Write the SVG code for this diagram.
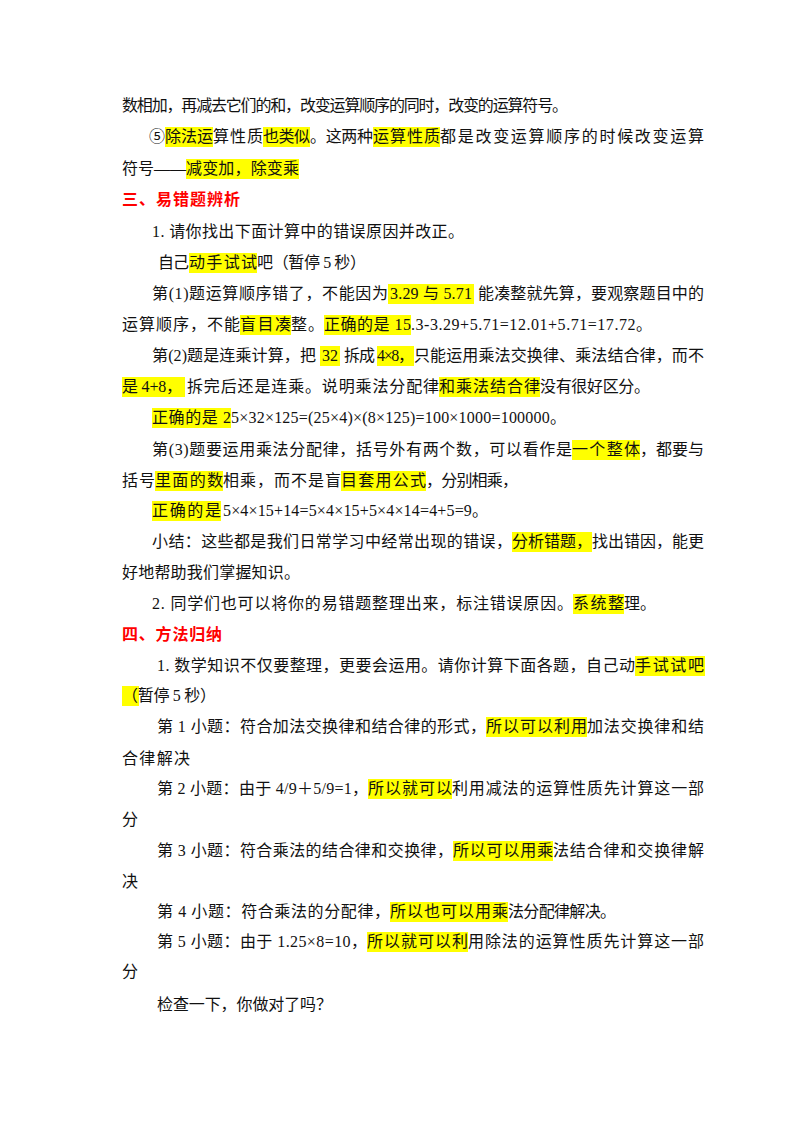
<svg xmlns="http://www.w3.org/2000/svg" width="800" height="1132" viewBox="0 0 800 1132">
<style>
text{font-family:"Liberation Serif","Noto Sans CJK SC",serif;font-size:16px;fill:#111}
.r{fill:#ff0000;font-weight:bold;font-family:"Liberation Serif","Noto Sans CJK SC",sans-serif}
.h{fill:#ffff00}
</style>
<rect width="800" height="1132" fill="#fff"/>
<g id="highlights">
<rect class="h" x="165" y="127" width="48" height="20"/>
<rect class="h" x="263" y="127" width="47" height="20"/>
<rect class="h" x="373" y="127" width="67" height="20"/>
<rect class="h" x="186" y="159" width="113" height="20"/>
<rect class="h" x="189" y="253" width="68" height="20"/>
<rect class="h" x="388" y="284" width="86" height="20"/>
<rect class="h" x="240" y="315" width="51" height="20"/>
<rect class="h" x="324" y="315" width="87" height="20"/>
<rect class="h" x="320" y="346" width="20" height="20"/>
<rect class="h" x="377" y="346" width="37" height="20"/>
<rect class="h" x="122" y="377" width="63" height="20"/>
<rect class="h" x="439" y="377" width="101" height="20"/>
<rect class="h" x="152" y="408" width="79" height="20"/>
<rect class="h" x="572" y="440" width="68" height="20"/>
<rect class="h" x="155" y="471" width="68" height="20"/>
<rect class="h" x="341" y="471" width="85" height="20"/>
<rect class="h" x="152" y="501" width="69" height="20"/>
<rect class="h" x="512" y="532" width="80" height="20"/>
<rect class="h" x="573" y="594" width="51" height="20"/>
<rect class="h" x="635" y="656" width="70" height="20"/>
<rect class="h" x="122" y="686" width="17" height="20"/>
<rect class="h" x="486" y="717" width="101" height="20"/>
<rect class="h" x="368" y="779" width="84" height="20"/>
<rect class="h" x="453" y="841" width="100" height="20"/>
<rect class="h" x="390" y="902" width="118" height="20"/>
<rect class="h" x="367" y="932" width="101" height="20"/>
</g>
<g id="text">
<text x="122" y="111" textLength="446" lengthAdjust="spacing">数相加，再减去它们的和，改变运算顺序的同时，改变的运算符号。</text>

<text x="149" y="142" textLength="16" lengthAdjust="spacingAndGlyphs">⑤</text>
<text x="165" y="142" textLength="48" lengthAdjust="spacing">除法运</text>
<text x="213" y="142" textLength="50" lengthAdjust="spacing">算性质</text>
<text x="263" y="142" textLength="47" lengthAdjust="spacing">也类似</text>
<text x="310" y="142" textLength="63" lengthAdjust="spacing">。这两种</text>
<text x="373" y="142" textLength="67" lengthAdjust="spacing">运算性质</text>
<text x="440" y="142" textLength="264" lengthAdjust="spacing">都是改变运算顺序的时候改变运算</text>

<text x="122" y="174" textLength="64" lengthAdjust="spacing">符号——</text>
<text x="186" y="174" textLength="113" lengthAdjust="spacing">减变加，除变乘</text>

<text class="r" x="122" y="205" textLength="118" lengthAdjust="spacing">三、易错题辨析</text>

<text x="152" y="237" textLength="312" lengthAdjust="spacing">1. 请你找出下面计算中的错误原因并改正。</text>

<text x="158" y="268" textLength="31" lengthAdjust="spacing">自己</text>
<text x="189" y="268" textLength="68" lengthAdjust="spacing">动手试试</text>
<text x="257" y="268" textLength="109" lengthAdjust="spacing">吧（暂停 5 秒）</text>

<text x="152" y="299" textLength="236" lengthAdjust="spacing">第(1)题运算顺序错了，不能因为</text>
<text x="390" y="299" textLength="82" lengthAdjust="spacing">3.29 与 5.71</text>
<text x="478" y="299" textLength="226" lengthAdjust="spacing">能凑整就先算，要观察题目中的</text>

<text x="122" y="330" textLength="118" lengthAdjust="spacing">运算顺序，不能</text>
<text x="240" y="330" textLength="51" lengthAdjust="spacing">盲目凑</text>
<text x="291" y="330" textLength="33" lengthAdjust="spacing">整。</text>
<text x="324" y="330" textLength="87" lengthAdjust="spacing">正确的是 15</text>
<text x="411" y="330" textLength="241" lengthAdjust="spacing">.3-3.29+5.71=12.01+5.71=17.72。</text>

<text x="152" y="361" textLength="164" lengthAdjust="spacing">第(2)题是连乘计算，把</text>
<text x="322" y="361">32</text>
<text x="344" y="361" textLength="31" lengthAdjust="spacing">拆成</text>
<text x="377" y="361" textLength="37" lengthAdjust="spacing">4×8，</text>
<text x="414" y="361" textLength="290" lengthAdjust="spacing">只能运用乘法交换律、乘法结合律，而不</text>

<text x="122" y="392" textLength="60" lengthAdjust="spacing">是 4+8，</text>
<text x="187" y="392" textLength="252" lengthAdjust="spacing">拆完后还是连乘。说明乘法分配律</text>
<text x="439" y="392" textLength="101" lengthAdjust="spacing">和乘法结合律</text>
<text x="540" y="392" textLength="110" lengthAdjust="spacing">没有很好区分。</text>

<text x="152" y="423" textLength="79" lengthAdjust="spacing">正确的是 2</text>
<text x="231" y="423" textLength="335" lengthAdjust="spacing">5×32×125=(25×4)×(8×125)=100×1000=100000。</text>

<text x="152" y="455" textLength="420" lengthAdjust="spacing">第(3)题要运用乘法分配律，括号外有两个数，可以看作是</text>
<text x="572" y="455" textLength="68" lengthAdjust="spacing">一个整体</text>
<text x="640" y="455" textLength="64" lengthAdjust="spacing">，都要与</text>

<text x="122" y="486" textLength="33" lengthAdjust="spacing">括号</text>
<text x="155" y="486" textLength="68" lengthAdjust="spacing">里面的数</text>
<text x="223" y="486" textLength="118" lengthAdjust="spacing">相乘，而不是盲</text>
<text x="341" y="486" textLength="85" lengthAdjust="spacing">目套用公式</text>
<text x="426" y="486" textLength="92" lengthAdjust="spacing">，分别相乘，</text>

<text x="152" y="516" textLength="69" lengthAdjust="spacing">正确的是</text>
<text x="223" y="516" textLength="265" lengthAdjust="spacing">5×4×15+14=5×4×15+5×4×14=4+5=9。</text>

<text x="152" y="547" textLength="360" lengthAdjust="spacing">小结：这些都是我们日常学习中经常出现的错误，</text>
<text x="512" y="547" textLength="80" lengthAdjust="spacing">分析错题，</text>
<text x="592" y="547" textLength="112" lengthAdjust="spacing">找出错因，能更</text>

<text x="122" y="578" textLength="178" lengthAdjust="spacing">好地帮助我们掌握知识。</text>

<text x="152" y="609" textLength="421" lengthAdjust="spacing">2. 同学们也可以将你的易错题整理出来，标注错误原因。</text>
<text x="573" y="609" textLength="51" lengthAdjust="spacing">系统整</text>
<text x="624" y="609">理。</text>

<text class="r" x="122" y="640" textLength="100" lengthAdjust="spacing">四、方法归纳</text>

<text x="157" y="671" textLength="478" lengthAdjust="spacing">1.  数学知识不仅要整理，更要会运用。请你计算下面各题，自己动</text>
<text x="635" y="671" textLength="69" lengthAdjust="spacing">手试试吧</text>

<text x="122" y="701" textLength="94" lengthAdjust="spacing">（暂停 5 秒）</text>

<text x="157" y="732" textLength="329" lengthAdjust="spacing">第 1 小题：符合加法交换律和结合律的形式，</text>
<text x="486" y="732" textLength="101" lengthAdjust="spacing">所以可以利用</text>
<text x="587" y="732" textLength="117" lengthAdjust="spacing">加法交换律和结</text>
<text x="122" y="764" textLength="68" lengthAdjust="spacing">合律解决</text>

<text x="157" y="794" textLength="211" lengthAdjust="spacing">第 2 小题：由于 4/9＋5/9=1，</text>
<text x="368" y="794" textLength="84" lengthAdjust="spacing">所以就可以</text>
<text x="452" y="794" textLength="252" lengthAdjust="spacing">利用减法的运算性质先计算这一部</text>
<text x="122" y="825">分</text>

<text x="157" y="856" textLength="296" lengthAdjust="spacing">第 3 小题：符合乘法的结合律和交换律，</text>
<text x="453" y="856" textLength="100" lengthAdjust="spacing">所以可以用乘</text>
<text x="553" y="856" textLength="151" lengthAdjust="spacing">法结合律和交换律解</text>
<text x="122" y="887">决</text>

<text x="157" y="917" textLength="233" lengthAdjust="spacing">第 4 小题：符合乘法的分配律，</text>
<text x="390" y="917" textLength="118" lengthAdjust="spacing">所以也可以用乘</text>
<text x="508" y="917" textLength="108" lengthAdjust="spacing">法分配律解决。</text>

<text x="157" y="947" textLength="210" lengthAdjust="spacing">第 5 小题：由于 1.25×8=10，</text>
<text x="367" y="947" textLength="101" lengthAdjust="spacing">所以就可以利</text>
<text x="468" y="947" textLength="236" lengthAdjust="spacing">用除法的运算性质先计算这一部</text>
<text x="122" y="977">分</text>

<text x="157" y="1010" textLength="175" lengthAdjust="spacing">检查一下，你做对了吗？</text>
</g>
</svg>
